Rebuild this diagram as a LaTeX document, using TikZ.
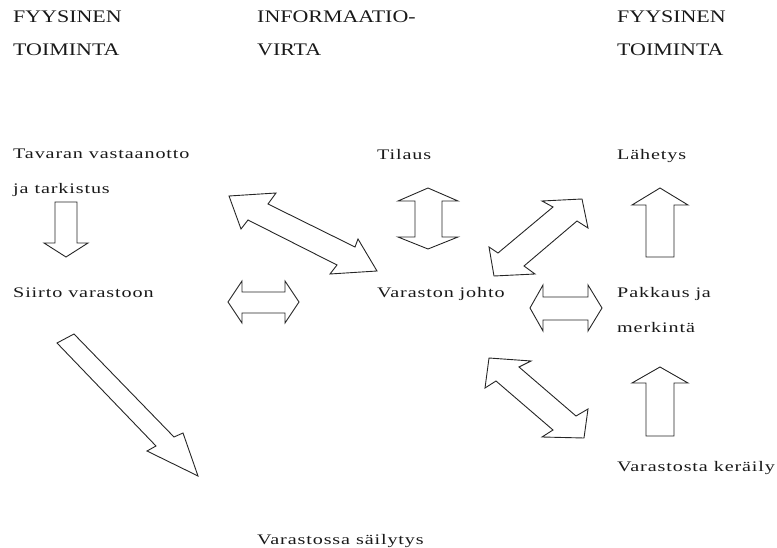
\documentclass[tikz,border=0pt]{standalone}
\usepackage{fontspec}
\setmainfont{Liberation Serif}
\newfontfamily\headfont[FakeStretch=1.24]{Liberation Serif}
\newfontfamily\bodyfont[FakeStretch=1.38,LetterSpace=6]{Liberation Serif}
\usepackage{tikz}

\begin{document}
\begin{tikzpicture}[x=1pt, y=-1pt,
  head/.style={anchor=base west, inner sep=0pt, text=black!90, font=\headfont\fontsize{17.7}{20}\selectfont},
  lbl/.style={anchor=base west, inner sep=0pt, text=black!90, font=\bodyfont\fontsize{14.6}{17}\selectfont},
  blk/.style={draw=black!85, line width=0.9pt, line join=miter}]
  \useasboundingbox (0,0) rectangle (777,548);
  \node[head] (fys1) at (13,23) {FYYSINEN};
  \node[head] (toi1) at (13,56) {TOIMINTA};
  \node[head] (info) at (257,23) {INFORMAATIO-};
  \node[head] (virta) at (257,56) {VIRTA};
  \node[head] (fys2) at (617,23) {FYYSINEN};
  \node[head] (toi2) at (617,56) {TOIMINTA};
  \node[lbl] (vast) at (13,159) {Tavaran vastaanotto};
  \node[lbl] (tark) at (13,194) {ja tarkistus};
  \node[lbl] (siirto) at (13,298) {Siirto varastoon};
  \node[lbl] (tilaus) at (377,160) {Tilaus};
  \node[lbl] (lahetys) at (617,160) {Lähetys};
  \node[lbl] (johto) at (377,298) {Varaston johto};
  \node[lbl] (pakkaus) at (617,298) {Pakkaus ja};
  \node[lbl] (merkinta) at (617,333) {merkintä};
  \node[lbl] (keraily) at (617,471) {Varastosta keräily};
  \node[lbl] (sailytys) at (257,544) {Varastossa säilytys};
  \draw[blk] (55,202) -- (77,202) -- (77,243) -- (88,243) -- (66,257) -- (44,243) -- (55,243) -- cycle;
  \draw[blk] (229,196) -- (276,193) -- (268,204) -- (355,247) -- (358,239) -- (377,271) -- (330,274) -- (337,265) -- (248,220) -- (241,229) -- cycle;
  \draw[blk] (228,302) -- (242,281) -- (242,292) -- (285,292) -- (285,281) -- (299,302) -- (285,323) -- (285,313) -- (242,313) -- (242,323) -- cycle;
  \draw[blk] (428,188) -- (458,201) -- (442,201) -- (442,237) -- (458,237) -- (428,249) -- (398,237) -- (415,237) -- (415,201) -- (398,201) -- cycle;
  \draw[blk] (582,199) -- (588,228) -- (577,221) -- (524,266) -- (535,274) -- (494,276) -- (489,247) -- (498,253) -- (553,207) -- (542,201) -- cycle;
  \draw[blk] (660,188) -- (688,205) -- (674,205) -- (674,257) -- (646,257) -- (646,205) -- (632,205) -- cycle;
  \draw[blk] (530,308) -- (543,285) -- (543,297) -- (588,297) -- (588,285) -- (602,308) -- (588,331) -- (588,320) -- (543,320) -- (543,331) -- cycle;
  \draw[blk] (489,358) -- (531,361) -- (519,367) -- (576,416) -- (588,409) -- (584,438) -- (542,437) -- (553,430) -- (496,381) -- (485,388) -- cycle;
  \draw[blk] (660,367) -- (688,383) -- (674,383) -- (674,436) -- (646,436) -- (646,383) -- (632,383) -- cycle;
  \draw[blk] (57,343) -- (74,334) -- (174,437) -- (183,433) -- (198,476) -- (147,451) -- (156,446) -- cycle;
\end{tikzpicture}
\end{document}
